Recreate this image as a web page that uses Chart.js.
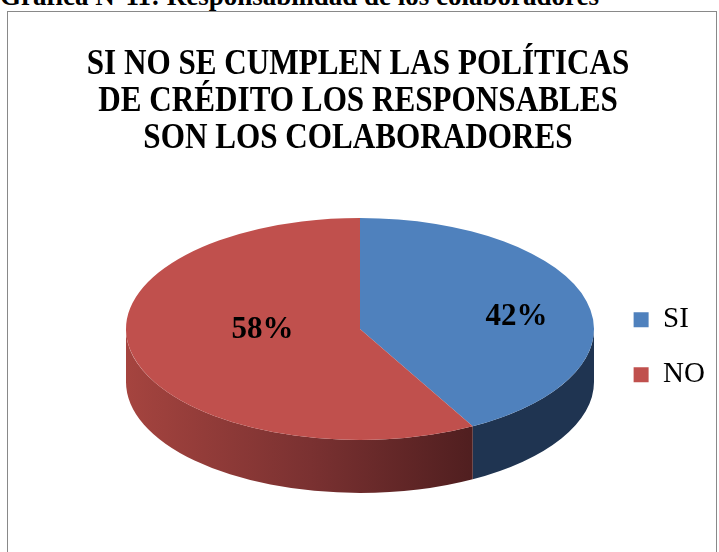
<!DOCTYPE html>
<html>
<head>
<meta charset="utf-8">
<script src="https://cdn.jsdelivr.net/npm/chart.js@4.4.0/dist/chart.umd.min.js"></script>
<style>
  html, body { margin: 0; padding: 0; background: #fff; }
  body { width: 719px; height: 552px; position: relative; overflow: hidden; font-family: "Liberation Serif", serif; }
  #caption { position: absolute; left: 0; top: -17px; font-weight: bold; font-size: 27px; line-height: 27px; white-space: nowrap; color: #000; }
  #frame { position: absolute; left: 7px; top: 11px; width: 708px; height: 600px; border: 1px solid #898989; }
  #wrap { position: absolute; left: 0; top: 0; width: 719px; height: 552px; }
</style>
</head>
<body>
<div id="caption">Gráfica N°11: Responsabilidad de los colaboradores</div>
<div id="frame"></div>
<div id="wrap"><canvas id="pieChart" width="719" height="552"></canvas></div>
<script>
// Chart data
const categories = ['SI', 'NO'];
const percentages = [42, 58];
const titleLines = ['SI NO SE CUMPLEN LAS POLÍTICAS', 'DE CRÉDITO LOS RESPONSABLES', 'SON LOS COLABORADORES'];

// Look of the tilted pie
const topColors = ['#4F81BD', '#C0504D'];
const PIE = { cx: 360, cy: 329, rx: 234, ry: 111, depth: 53 };
// label position inside each slice, as a share of the radius (x, y)
const labelOffset = [[0.69, 0.42], [0.43, 0.04]];
const TITLE_SQUEEZE = 0.89;
const TITLE_CENTER = 358;

function sideFill(ctx, i) {
    if (i === 0) return '#1F3451';
    const g = ctx.createLinearGradient(PIE.cx - PIE.rx, 0, PIE.cx + 135, 0);
    g.addColorStop(0, '#A5443F');
    g.addColorStop(0.5, '#7A3131');
    g.addColorStop(1, '#4A1C1D');
    return g;
}

// Squash the pie into an ellipse and give it a front wall
const tiltPlugin = {
    id: 'tilt',
    beforeDatasetsDraw(chart) {
        const ctx = chart.ctx;
        const arcs = chart.getDatasetMeta(0).data;
        const { cx, cy, rx, ry, depth } = PIE;

        arcs.forEach((arc, i) => {
            const a1 = Math.max(arc.startAngle, 0);
            const a2 = Math.min(arc.endAngle, Math.PI);
            if (a2 <= a1) return;
            ctx.save();
            ctx.beginPath();
            ctx.ellipse(cx, cy, rx, ry, 0, a1, a2, false);
            ctx.lineTo(cx + rx * Math.cos(a2), cy + ry * Math.sin(a2) + depth);
            ctx.ellipse(cx, cy + depth, rx, ry, 0, a2, a1, true);
            ctx.closePath();
            ctx.fillStyle = sideFill(ctx, i);
            ctx.fill();
            ctx.restore();
        });

        const ref = arcs[0];
        ctx.save();
        ctx.translate(cx, cy);
        ctx.scale(rx / ref.outerRadius, ry / ref.outerRadius);
        ctx.translate(-ref.x, -ref.y);
    },
    afterDatasetsDraw(chart) {
        const ctx = chart.ctx;
        ctx.restore();

        const arcs = chart.getDatasetMeta(0).data;
        ctx.save();
        ctx.font = 'bold 31px "Liberation Serif"';
        ctx.fillStyle = '#000';
        ctx.textAlign = 'center';
        ctx.textBaseline = 'middle';
        arcs.forEach((arc, i) => {
            const mid = (arc.startAngle + arc.endAngle) / 2;
            const [fx, fy] = labelOffset[i];
            const x = PIE.cx + fx * PIE.rx * Math.cos(mid);
            const y = PIE.cy + fy * PIE.ry * Math.sin(mid);
            ctx.fillText(percentages[i] + '%', x, y);
        });
        ctx.restore();
    }
};

const ctx = document.getElementById('pieChart').getContext('2d');
window.pieChart = new Chart(ctx, {
    type: 'pie',
    data: {
        labels: categories,
        datasets: [{
            data: percentages,
            backgroundColor: topColors,
            borderWidth: 0,
            clip: false
        }]
    },
    options: {
        responsive: false,
        animation: false,
        devicePixelRatio: 1,
        layout: { padding: { right: 4, bottom: 25 } },
        plugins: {
            tooltip: { enabled: false },
            title: {
                display: true,
                text: titleLines,
                color: '#000',
                font: { family: 'Liberation Serif', size: 35, weight: 'bold', lineHeight: 1.05 },
                padding: { top: 47, bottom: 10 }
            },
            legend: {
                position: 'right',
                fullSize: false,
                labels: {
                    color: '#000',
                    boxWidth: 15,
                    boxHeight: 15,
                    padding: 26,
                    font: { family: 'Liberation Serif', size: 29 }
                }
            }
        }
    },
    plugins: [tiltPlugin]
});

// The title face is a little condensed: draw it squeezed sideways
const titleBox = pieChart.titleBlock;
const drawTitle = titleBox.draw.bind(titleBox);
titleBox.draw = function () {
    const c = this.ctx;
    c.save();
    c.translate(TITLE_CENTER, 0);
    c.scale(TITLE_SQUEEZE, 1);
    c.translate(-(this.left + this.right) / 2, 0);
    drawTitle();
    c.restore();
};
pieChart.update();
</script>
</body>
</html>
